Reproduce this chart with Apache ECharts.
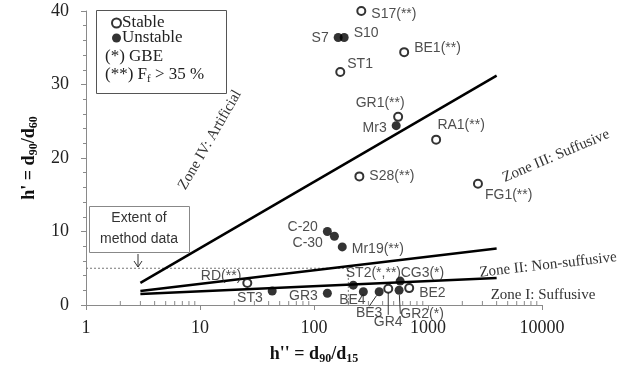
<!DOCTYPE html>
<html>
<head>
<meta charset="utf-8">
<script src="https://cdn.jsdelivr.net/npm/echarts@6/dist/echarts.min.js"></script>
<style>html,body{margin:0;padding:0;background:#fff}#c{width:632px;height:370px}</style>
</head>
<body>
<div id="c"></div>
<script>
// ---- data ----
const xTickLabels = [1, 10, 100, 1000, 10000];
const yTickLabels = [0, 10, 20, 30, 40];
const xMinorTicks = [2,3,4,5,6,7,8,9,20,30,40,50,60,70,80,90,200,300,400,500,600,700,800,900,2000,3000,4000,5000,6000,7000,8000,9000];

const stableNames = ['S17(**)','BE1(**)','ST1','GR1(**)','RA1(**)','S28(**)','FG1(**)','RD(**)','GR4','BE2'];
const stableX     = [260, 618, 170, 547, 1178, 250, 2743, 26, 448, 684];
const stableY     = [40.0, 34.4, 31.7, 25.6, 22.5, 17.5, 16.5, 3.0, 2.2, 2.3];

const unstableNames = ['S7','S10','Mr3','C-20','C-30','Mr19(**)','ST3','GR3','ST2(*,**)','BE4','BE3','CG3(*)','GR2(*)'];
const unstableX     = [163, 184, 526, 131, 151, 177, 43, 131, 221, 271, 373, 570, 558];
const unstableY     = [36.4, 36.4, 24.4, 10.0, 9.35, 7.9, 1.9, 1.6, 2.7, 1.8, 1.8, 3.25, 2.0];

const zoneIVLine = [[3, 3.0], [4000, 31.2]];
const zoneIILine = [[3, 1.9], [4000, 7.7]];
const zoneILine  = [[3, 1.5], [4000, 3.66]];
const methodExtent = [[1, 5], [200, 5], [200, 0]];

// ---- label placement (style) ----
const labelPlace = {
  'S17(**)': {position:'right', offset:[0,3]},
  'BE1(**)': {position:'right', offset:[0,-4]},
  'ST1': {position:'right', offset:[-3,-8]},
  'GR1(**)': {position:'top', offset:[-18,3]},
  'RA1(**)': {position:'top', offset:[25,3]},
  'S28(**)': {position:'right', offset:[0,0]},
  'FG1(**)': {position:'right', offset:[-3,11]},
  'RD(**)': {position:'left', offset:[4,-7]},
  'GR4': {position:'bottom', offset:[0,16], leader:true},
  'BE2': {position:'right', offset:[0,5]},
  'S7': {position:'left', offset:[0,1]},
  'S10': {position:'right', offset:[0,-4]},
  'Mr3': {position:'left', offset:[0,2]},
  'C-20': {position:'left', offset:[0,-4]},
  'C-30': {position:'left', offset:[-2,7]},
  'Mr19(**)': {position:'right', offset:[0,2]},
  'ST3': {position:'left', offset:[0,7]},
  'GR3': {position:'left', offset:[0,3]},
  'ST2(*,**)': {position:'right', offset:[-17,-12]},
  'BE4': {position:'bottom', offset:[-11,-8]},
  'BE3': {position:'bottom', offset:[-10,5], leader:true},
  'CG3(*)': {position:'right', offset:[-9,-8]},
  'GR2(*)': {position:'bottom', offset:[23,7], leader:true}
};

const SERIF = "'Liberation Serif', 'Times New Roman', serif";
const SANS = "'Liberation Sans', Arial, sans-serif";
const AXIS_COLOR = '#8a8a8a';

function buildItems(names, xs, ys) {
  return names.map((n, i) => {
    const p = labelPlace[n] || {position:'right', offset:[0,0]};
    const item = {name: n, value: [xs[i], ys[i]], label: {position: p.position}};
    if (p.leader) item.labelLine = {show: true, lineStyle: {color: '#333', width: 1}};
    return item;
  });
}
function placeLayout(names) {
  return function (params) {
    const p = labelPlace[names[params.dataIndex]];
    if (p) return {dx: p.offset[0], dy: p.offset[1]};
    return {dx: 0, dy: 0};
  };
}

const pointLabel = {show: true, formatter: '{b}', fontFamily: SANS, fontSize: 14, color: '#222', distance: 5};

const chart = echarts.init(document.getElementById('c'), null, {renderer: 'canvas'});

const option = {
  animation: false,
  backgroundColor: '#fff',
  grid: {left: 86, right: 90, top: 11, bottom: 64, containLabel: false},
  xAxis: {
    type: 'log', logBase: 10, min: xTickLabels[0], max: xTickLabels[xTickLabels.length - 1],
    name: '{n|h\'\' = d}{s|90}{n|/d}{s|15}',
    nameLocation: 'middle', nameGap: 38,
    nameTextStyle: {
      rich: {
        n: {fontFamily: SERIF, fontSize: 18, fontWeight: 'bold', color: '#111', lineHeight: 22, verticalAlign: 'middle'},
        s: {fontFamily: SERIF, fontSize: 12, fontWeight: 'bold', color: '#111', lineHeight: 12, verticalAlign: 'bottom'}
      }
    },
    axisLine: {lineStyle: {color: AXIS_COLOR, width: 1}},
    axisTick: {length: 5, lineStyle: {color: AXIS_COLOR}},
    minorTick: {show: false},
    splitLine: {show: false},
    axisLabel: {fontFamily: SERIF, fontSize: 18, color: '#222', margin: 14,
      formatter: v => String(Math.round(v))}
  },
  yAxis: {
    type: 'value', min: yTickLabels[0], max: yTickLabels[yTickLabels.length - 1], interval: 10,
    name: '{n|h\' = d}{s|90}{n|/d}{s|60}',
    nameLocation: 'middle', nameGap: 42, nameRotate: 90,
    nameTextStyle: {
      rich: {
        n: {fontFamily: SERIF, fontSize: 18, fontWeight: 'bold', color: '#111', lineHeight: 22, verticalAlign: 'middle'},
        s: {fontFamily: SERIF, fontSize: 12, fontWeight: 'bold', color: '#111', lineHeight: 12, verticalAlign: 'bottom'}
      }
    },
    axisLine: {show: true, lineStyle: {color: AXIS_COLOR, width: 1}},
    axisTick: {show: true, length: 5, lineStyle: {color: AXIS_COLOR}},
    minorTick: {show: true, splitNumber: 5, length: 3, lineStyle: {color: AXIS_COLOR}},
    splitLine: {show: false},
    axisLabel: {fontFamily: SERIF, fontSize: 18, color: '#222', margin: 17}
  },
  legend: {
    left: 106, top: 9, orient: 'vertical', itemGap: -3,
    itemWidth: 9, itemHeight: 9, icon: 'circle',
    data: ['Stable', 'Unstable'],
    textStyle: {fontFamily: SERIF, fontSize: 17, color: '#222', lineHeight: 18, padding: [0, 0, 0, -4]},
    selectedMode: false
  },
  series: [
    {
      type: 'custom', name: 'xminor', silent: true, clip: false,
      data: xMinorTicks.map(v => [v, 0]),
      encode: {x: 0, y: 1},
      renderItem: function (params, api) {
        const p = api.coord([api.value(0), 0]);
        return {type: 'line', shape: {x1: p[0], y1: p[1], x2: p[0], y2: p[1] - 4},
          style: {stroke: AXIS_COLOR, lineWidth: 1}};
      },
      z: 1
    },
    {
      type: 'line', name: 'extent', data: methodExtent, symbol: 'none', silent: true,
      lineStyle: {color: '#777', width: 1, type: [2, 2]}, z: 2
    },
    {type: 'line', name: 'zoneIV', data: zoneIVLine, symbol: 'none', silent: true, lineStyle: {color: '#000', width: 2.5}, z: 3},
    {type: 'line', name: 'zoneII', data: zoneIILine, symbol: 'none', silent: true, lineStyle: {color: '#000', width: 2.5}, z: 3},
    {type: 'line', name: 'zoneI', data: zoneILine, symbol: 'none', silent: true, lineStyle: {color: '#000', width: 2.5}, z: 3},
    {
      type: 'scatter', name: 'Stable', clip: false, symbol: 'circle', symbolSize: 8,
      itemStyle: {color: '#fff', borderColor: '#000', borderWidth: 2},
      label: pointLabel,
      labelLayout: placeLayout(stableNames),
      data: buildItems(stableNames, stableX, stableY), z: 5
    },
    {
      type: 'scatter', name: 'Unstable', clip: false, symbol: 'circle', symbolSize: 9,
      itemStyle: {color: '#000'},
      label: pointLabel,
      labelLayout: placeLayout(unstableNames),
      data: buildItems(unstableNames, unstableX, unstableY), z: 5
    }
  ],
  graphic: [
    {type: 'rect', left: 94, top: 8, shape: {width: 130, height: 83}, style: {fill: 'none', stroke: '#555', lineWidth: 1}, z: 0},
    {type: 'text', left: 105, top: 48, style: {text: '(*) GBE', fontFamily: SERIF, fontSize: 17, fill: '#222'}},
    {type: 'text', left: 105, top: 66, style: {
      text: '{n|(**) F}{s|f}{n| > 35 %}',
      rich: {
        n: {fontFamily: SERIF, fontSize: 17, fill: '#222', lineHeight: 20, verticalAlign: 'middle'},
        s: {fontFamily: SERIF, fontSize: 11, fill: '#222', lineHeight: 11, verticalAlign: 'bottom'}
      }}},
    {type: 'rect', left: 89, top: 206, shape: {width: 100, height: 46}, style: {fill: '#fff', stroke: '#888', lineWidth: 1}, z: 10},
    {type: 'text', x: 139, y: 229, z: 11, style: {text: 'Extent of\nmethod data', fontFamily: SANS, fontSize: 14, fill: '#333',
      align: 'center', verticalAlign: 'middle', lineHeight: 21}},
    {type: 'polyline', z: 11, shape: {points: [[138, 254], [138, 267]]}, style: {stroke: '#333', lineWidth: 1, fill: 'none'}},
    {type: 'polyline', z: 11, shape: {points: [[134, 261], [138, 267], [142, 261]]}, style: {stroke: '#333', lineWidth: 1, fill: 'none'}},
    {type: 'text', x: 210, y: 140, rotation: 60 * Math.PI / 180, style: {text: 'Zone IV: Artificial', fontFamily: SERIF, fontSize: 15, fill: '#333', align: 'center', verticalAlign: 'middle'}},
    {type: 'text', x: 556, y: 156, rotation: 23 * Math.PI / 180, style: {text: 'Zone III: Suffusive', fontFamily: SERIF, fontSize: 15, fill: '#333', align: 'center', verticalAlign: 'middle'}},
    {type: 'text', x: 548, y: 265, rotation: 6.5 * Math.PI / 180, style: {text: 'Zone II: Non-suffusive', fontFamily: SERIF, fontSize: 15, fill: '#333', align: 'center', verticalAlign: 'middle'}},
    {type: 'text', x: 543, y: 295, style: {text: 'Zone I: Suffusive', fontFamily: SERIF, fontSize: 15, fill: '#333', align: 'center', verticalAlign: 'middle'}}
  ]
};
chart.setOption(option);
</script>
</body>
</html>
